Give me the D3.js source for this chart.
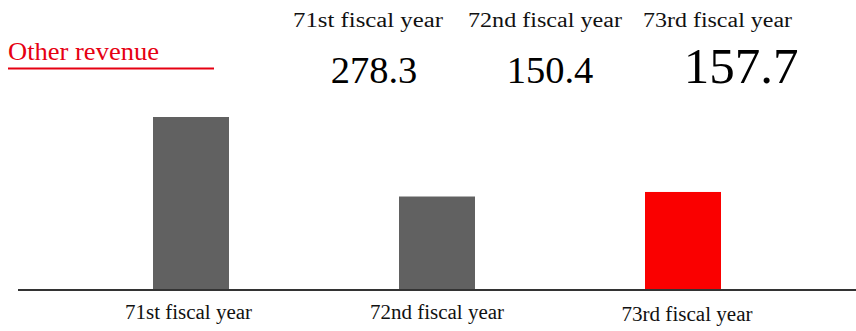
<!DOCTYPE html>
<html>
<head>
<meta charset="utf-8">
<script src="https://cdn.jsdelivr.net/npm/d3@7"></script>
<style>
  html, body { margin: 0; padding: 0; background: #fff; }
  svg { display: block; }
</style>
</head>
<body>
<svg id="chart" width="856" height="331"></svg>
<script>
// Other revenue by fiscal year
const categories = ["71st fiscal year", "72nd fiscal year", "73rd fiscal year"];
const values = [278.3, 150.4, 157.7];
const valueLabels = ["278.3", "150.4", "157.7"];
const title = "Other revenue";

const W = 856, H = 331;
const svg = d3.select("#chart");
const font = "'Liberation Serif', 'Times New Roman', serif";

const baseY = 290;
const x = d3.scalePoint().domain(categories).range([191, 683]);
const y = d3.scaleLinear().domain([0, 278.3]).range([baseY, 117]);
const barW = 76;

// Bars: the latest year is highlighted in red
svg.selectAll("rect.bar")
  .data(values)
  .join("rect")
  .attr("class", "bar")
  .attr("x", (d, i) => x(categories[i]) - barW / 2)
  .attr("y", d => y(d))
  .attr("width", barW)
  .attr("height", d => baseY - y(d))
  .attr("fill", (d, i) => i === categories.length - 1 ? "#fa0000" : "#616161");

// Baseline
svg.append("line")
  .attr("x1", 18).attr("x2", W)
  .attr("y1", baseY).attr("y2", baseY)
  .attr("stroke", "#333").attr("stroke-width", 2);

// Category labels under the bars (set in a slightly widened face)
const catX = [188.5, 437, 687];
const catY = [319, 319, 321];
const catLen = [127, 134, 131];
svg.selectAll("text.cat")
  .data(categories)
  .join("text")
  .attr("class", "cat")
  .attr("x", (d, i) => catX[i])
  .attr("y", (d, i) => catY[i])
  .attr("text-anchor", "middle")
  .attr("font-family", font)
  .attr("font-size", 20)
  .attr("textLength", (d, i) => catLen[i])
  .attr("lengthAdjust", "spacingAndGlyphs")
  .attr("fill", "#111")
  .text(d => d);

// Header row: year names and their values
const headX = [368, 545, 717.5];
const headLen = [150, 154, 149];
svg.selectAll("text.head")
  .data(categories)
  .join("text")
  .attr("class", "head")
  .attr("x", (d, i) => headX[i])
  .attr("y", 27)
  .attr("text-anchor", "middle")
  .attr("font-family", font)
  .attr("font-size", 20.5)
  .attr("textLength", (d, i) => headLen[i])
  .attr("lengthAdjust", "spacingAndGlyphs")
  .attr("fill", "#111")
  .text(d => d);

const valX = [374, 550, 741];
const valSize = [38.5, 38.5, 51];
svg.selectAll("text.val")
  .data(valueLabels)
  .join("text")
  .attr("class", "val")
  .attr("x", (d, i) => valX[i])
  .attr("y", 83)
  .attr("text-anchor", "middle")
  .attr("font-family", font)
  .attr("font-size", (d, i) => valSize[i])
  .attr("fill", "#000")
  .text(d => d);

// Title with red underline
svg.append("text")
  .attr("x", 8).attr("y", 60)
  .attr("font-family", font)
  .attr("font-size", 26)
  .attr("textLength", 151)
  .attr("lengthAdjust", "spacingAndGlyphs")
  .attr("fill", "#e60012")
  .text(title);

svg.append("line")
  .attr("x1", 8).attr("x2", 214)
  .attr("y1", 68.5).attr("y2", 68.5)
  .attr("stroke", "#e60012").attr("stroke-width", 2);
</script>
</body>
</html>
